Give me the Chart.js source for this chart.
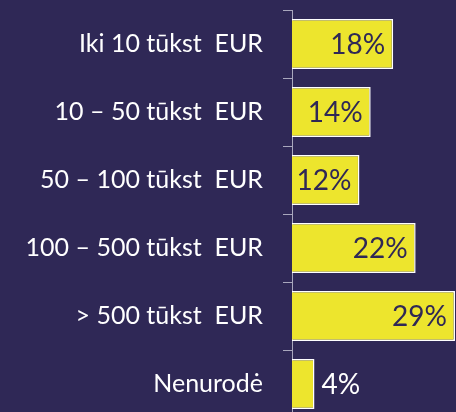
<!DOCTYPE html>
<html>
<head>
<meta charset="utf-8">
<script src="https://cdn.jsdelivr.net/npm/chart.js@4"></script>
<style>
  html, body { margin: 0; padding: 0; background: #2f2856; overflow: hidden; }
  #wrap { position: relative; width: 456px; height: 420px; }
</style>
</head>
<body>
<div id="wrap"><canvas id="incomeChart"></canvas></div>
<script>
// Kategorijos ir reikšmės (%)
const categories = [
    'Iki 10 tūkst  EUR',
    '10 – 50 tūkst  EUR',
    '50 – 100 tūkst  EUR',
    '100 – 500 tūkst  EUR',
    '> 500 tūkst  EUR',
    'Nenurodė'
];
const shares = [18, 14, 12, 22, 29, 4];

const FONT = 'Lato, "Open Sans", sans-serif';

// Procentų užrašai ant stulpelių
const valueLabels = {
    id: 'valueLabels',
    afterDatasetsDraw(chart) {
        const ctx = chart.ctx;
        const meta = chart.getDatasetMeta(0);
        ctx.save();
        ctx.font = '28px ' + FONT;
        ctx.textBaseline = 'middle';
        meta.data.forEach((bar, i) => {
            const v = shares[i];
            const text = v + '%';
            if (v >= 10) {
                ctx.fillStyle = '#2f2856';
                ctx.textAlign = 'right';
                ctx.fillText(text, bar.x - 8, bar.y + 1);
            } else {
                ctx.fillStyle = '#ffffff';
                ctx.textAlign = 'left';
                ctx.fillText(text, bar.x + 7, bar.y + 1);
            }
        });
        ctx.restore();
    }
};

new Chart(document.getElementById('incomeChart').getContext('2d'), {
    type: 'bar',
    data: {
        labels: categories,
        datasets: [{
            data: shares,
            backgroundColor: '#ede52d',
            borderColor: '#ffffff',
            borderWidth: 1.5,
            categoryPercentage: 1,
            barPercentage: 0.735
        }]
    },
    options: {
        indexAxis: 'y',
        responsive: true,
        maintainAspectRatio: false,
        animation: false,
        layout: { padding: { top: 10, bottom: 2, left: 0, right: 0 } },
        plugins: {
            legend: { display: false },
            tooltip: { enabled: false }
        },
        scales: {
            x: {
                display: false,
                min: 0,
                max: 29.18
            },
            y: {
                afterFit(scale) {
                    scale.width = 292;
                    scale.paddingTop = 0;
                    scale.paddingBottom = 0;
                },
                grid: {
                    offset: true,
                    drawOnChartArea: false,
                    color: '#a9a7bd',
                    tickLength: 9
                },
                border: { color: '#a9a7bd', width: 1 },
                ticks: {
                    color: '#ffffff',
                    padding: 20,
                    font: { family: FONT, size: 25 }
                }
            }
        }
    },
    plugins: [valueLabels]
});
</script>
</body>
</html>
